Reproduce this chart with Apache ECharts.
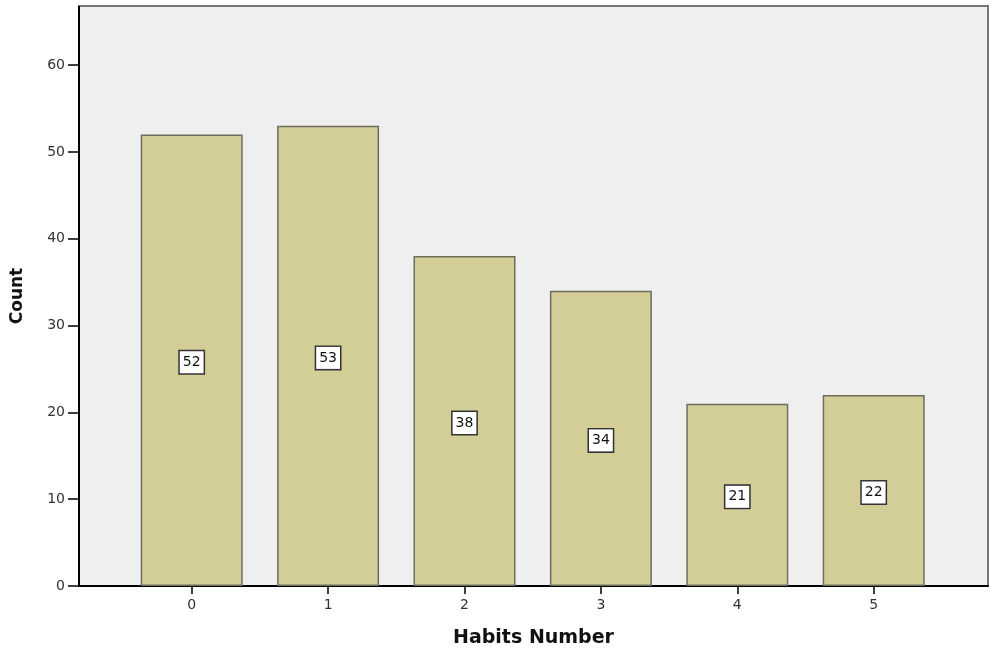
<!DOCTYPE html>
<html><head><meta charset="utf-8">
<script src="https://cdn.jsdelivr.net/npm/echarts@6/dist/echarts.min.js"></script>
<style>html,body{margin:0;padding:0;background:#fff}#c{width:1000px;height:666px}</style>
</head><body><div id="c"></div>
<script>
const categories = ['0', '1', '2', '3', '4', '5'];
const counts = [52, 53, 38, 34, 21, 22];
const yTicks = [0, 10, 20, 30, 40, 50, 60];
const xTitle = 'Habits Number';
const yTitle = 'Count';

const Y_MAX = 66.8;
const chart = echarts.init(document.getElementById('c'), null, {renderer: 'canvas'});
const font = 'DejaVu Sans';
chart.setOption({
  animation: false,
  backgroundColor: '#ffffff',
  grid: [
    {left: 79, right: 12, top: 6, bottom: 80, show: true, backgroundColor: '#efefef', borderColor: '#777777', borderWidth: 2},
    {left: 79, right: 12, top: 586 - 60 * (580 / Y_MAX), bottom: 80},
    {left: 123.5, right: 58.1, top: 6, bottom: 80}
  ],
  xAxis: [
    {gridIndex: 0, type: 'value', min: 0, max: 1, axisLine: {show: true, onZero: false, lineStyle: {color: '#000', width: 2}},
     axisTick: {show: false}, axisLabel: {show: false}, splitLine: {show: false},
     name: xTitle, nameLocation: 'middle', nameGap: 43,
     nameTextStyle: {fontFamily: font, fontWeight: 'bold', fontSize: 19, color: '#111'}},
    {gridIndex: 1, type: 'value', min: 0, max: 1, show: false},
    {gridIndex: 2, type: 'category', data: categories,
     axisLine: {show: false}, axisTick: {show: true, alignWithLabel: true, length: 8, lineStyle: {color: '#000', width: 1.5}},
     axisLabel: {fontFamily: font, fontSize: 14, color: '#333', margin: 12}, splitLine: {show: false}}
  ],
  yAxis: [
    {gridIndex: 0, type: 'value', min: 0, max: Y_MAX, show: false},
    {gridIndex: 1, type: 'value', min: yTicks[0], max: yTicks[yTicks.length - 1], interval: 10,
     axisLine: {show: true, lineStyle: {color: '#000', width: 2}},
     axisTick: {show: true, length: 11, lineStyle: {color: '#000', width: 1.5}},
     axisLabel: {fontFamily: font, fontSize: 14, color: '#333', margin: 14},
     splitLine: {show: false}},
    {gridIndex: 2, type: 'value', min: 0, max: Y_MAX, show: false}
  ],
  graphic: [
    {type: 'line', shape: {x1: 79, y1: 6, x2: 79, y2: 65}, style: {stroke: '#000', lineWidth: 2}},
    {type: 'text', x: 18, y: 296, rotation: Math.PI / 2,
     style: {text: yTitle, fontFamily: font, fontWeight: 'bold', fontSize: 17, fill: '#111', align: 'center', verticalAlign: 'middle'}}
  ],
  series: [{
    type: 'bar', xAxisIndex: 2, yAxisIndex: 2, data: counts, barWidth: 102,
    itemStyle: {color: '#d3ce98', borderColor: '#6e6d5e', borderWidth: 1.5},
    label: {show: true, position: 'inside', offset: [0, 2], fontFamily: font, fontSize: 14, color: '#111',
            backgroundColor: '#fff', borderColor: '#333', borderWidth: 1.5, padding: [5, 3, 3, 3]}
  }]
});
</script></body></html>
